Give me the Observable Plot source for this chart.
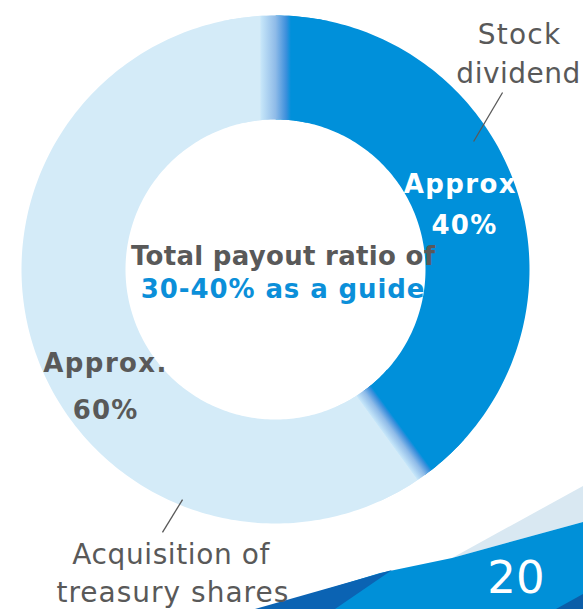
<!DOCTYPE html>
<html><head><meta charset="utf-8">
<script src="https://cdn.jsdelivr.net/npm/d3@7"></script>
<script src="https://cdn.jsdelivr.net/npm/@observablehq/plot@0.6"></script>
<style>
body{margin:0;background:#fff;}
#wrap{position:relative;width:583px;height:609px;overflow:hidden;font-family:"DejaVu Sans",Verdana,sans-serif;}
#deco{position:absolute;left:0;top:0;}
#chart{position:absolute;left:0;top:0;}
</style></head><body>
<div id="wrap">
<svg id="deco" width="583" height="609">
  <polygon points="583,486 452,558 583,522" fill="#d9e8f2"/>
  <polygon points="583,522 452,558 380,573 262,609 583,609" fill="#0090d8"/>
  <polygon points="255,609 392,570 335,609" fill="#0b63b3"/>
  <polygon points="583,594 556,609 583,609" fill="#0b5ea8"/>
  <text x="516" y="593" fill="#fff" font-size="45" text-anchor="middle" font-family="DejaVu Sans">20</text>
</svg>
<div id="chart"></div>
</div>
<script>
// Slices
const categories = ["Stock dividend", "Acquisition of treasury shares"];
const shares = [40, 60];
const sliceColors = ["#0090da", "#d4ebf8"];
const innerRatio = 150 / 254;

// Blend bands at the slice boundaries (width in outer-radius units)
const bandWidths = [0.122, 0.071];

// Text labels (positions in outer-radius units, centre = 0,0)
const labelText    = ["Approx", "40%", "Approx.", "60%", "Total payout ratio of", "30-40% as a guide", "Stock", "dividend", "Acquisition of", "treasury shares"];
const labelU       = [0.728, 0.744, -0.669, -0.669, 0.030, 0.030, 0.961, 0.957, -0.411, -0.404];
const labelV       = [0.303, 0.138, -0.404, -0.590, 0.016, -0.112, 0.886, 0.736, -1.161, -1.311];
const labelColor   = ["#ffffff", "#ffffff", "#595959", "#595959", "#595959", "#0b8fd9", "#595959", "#595959", "#595959", "#595959"];
const labelSize    = [26, 26, 26, 26, 26, 26, 28, 28, 28, 28];
const labelWeight  = ["bold", "bold", "bold", "bold", "bold", "bold", "normal", "normal", "normal", "normal"];
const labelSpacing = [1.4, 1.2, 1.4, 1.2, 0.3, 0.9, 1.2, 0.5, 0.6, 1.0];

// Leader lines
const leaderU1 = [0.894, -0.366];
const leaderV1 = [0.697, -0.906];
const leaderU2 = [0.780, -0.445];
const leaderV2 = [0.504, -1.035];

const rad = d => d * Math.PI / 180;
function arcPoints(a0, a1, key) {
  const n = Math.max(2, Math.ceil(Math.abs(a1 - a0)));
  const pts = [];
  for (let i = 0; i <= n; i++) { const a = rad(a0 + (a1 - a0) * i / n); pts.push({key, x: Math.sin(a), y: Math.cos(a)}); }
  for (let i = n; i >= 0; i--) { const a = rad(a0 + (a1 - a0) * i / n); pts.push({key, x: innerRatio * Math.sin(a), y: innerRatio * Math.cos(a)}); }
  return pts;
}

const total = d3.sum(shares);
let acc = 0;
const slicePts = [];
shares.forEach((v, i) => {
  const a0 = acc / total * 360, a1 = (acc + v) / total * 360;
  slicePts.push(...arcPoints(a0, a1, categories[i]));
  acc += v;
});
const darkStart = 0, darkEnd = shares[0] / total * 360;
const boundaries = [
  {angle: darkStart, sign: 1, width: bandWidths[0]},
  {angle: darkEnd, sign: -1, width: bandWidths[1]}
];
const bandPts = boundaries.map((b, i) => arcPoints(b.angle - 12, b.angle + 12, "band" + i));

const labels = labelText.map((t, i) => ({t, x: labelU[i], y: labelV[i], c: labelColor[i], s: labelSize[i], w: labelWeight[i]}));
const leaders = leaderU1.map((_, i) => ({x1: leaderU1[i], y1: leaderV1[i], x2: leaderU2[i], y2: leaderV2[i]}));

const plot = Plot.plot({
  width: 583, height: 609,
  marginLeft: 21, marginRight: 54, marginTop: 15, marginBottom: 86,
  x: {domain: [-1, 1], axis: null},
  y: {domain: [-1, 1], axis: null},
  style: {fontFamily: "DejaVu Sans, Verdana, sans-serif", background: "transparent"},
  marks: [
    Plot.line(slicePts, {x: "x", y: "y", z: "key", fill: d => sliceColors[categories.indexOf(d.key)], stroke: "none"}),
    ...bandPts.map((pts, i) => Plot.line(pts, {x: "x", y: "y", fill: `url(#band${i})`, stroke: "none"})),
    Plot.link(leaders, {x1: "x1", y1: "y1", x2: "x2", y2: "y2", stroke: "#595959", strokeWidth: 1.3}),
    ...labels.map(l => Plot.text([l], {x: "x", y: "y", text: "t", fill: l.c, fontSize: l.s, fontWeight: l.w, textAnchor: "middle", lineAnchor: "bottom"}))
  ]
});

// letter spacing to approximate the wider original face
plot.querySelectorAll('g[aria-label="text"]').forEach((g, i) => {
  g.querySelectorAll("text").forEach(t => t.setAttribute("letter-spacing", labelSpacing[i]));
});

// gradients for the blend bands, positioned through the plot's scales
const sx = plot.scale("x"), sy = plot.scale("y");
const ns = "http://www.w3.org/2000/svg";
const defs = document.createElementNS(ns, "defs");
const mid = (1 + innerRatio) / 2;
boundaries.forEach((b, i) => {
  const a = rad(b.angle);
  const px = mid * Math.sin(a), py = mid * Math.cos(a);
  const dx = Math.cos(a) * b.sign, dy = -Math.sin(a) * b.sign;
  const g = document.createElementNS(ns, "linearGradient");
  g.setAttribute("id", "band" + i);
  g.setAttribute("gradientUnits", "userSpaceOnUse");
  g.setAttribute("x1", sx.apply(px - dx * b.width / 2));
  g.setAttribute("y1", sy.apply(py - dy * b.width / 2));
  g.setAttribute("x2", sx.apply(px + dx * b.width / 2));
  g.setAttribute("y2", sy.apply(py + dy * b.width / 2));
  [[0, "#d4ebf8"], [0.03, "#c6e6f9"], [0.5, "#8fbbe8"], [0.85, "#3b8fdc"], [1, "#0090da"]].forEach(([o, c]) => {
    const s = document.createElementNS(ns, "stop");
    s.setAttribute("offset", o); s.setAttribute("stop-color", c);
    g.appendChild(s);
  });
  defs.appendChild(g);
});
plot.insertBefore(defs, plot.firstChild);
document.getElementById("chart").appendChild(plot);
</script>
</body></html>
